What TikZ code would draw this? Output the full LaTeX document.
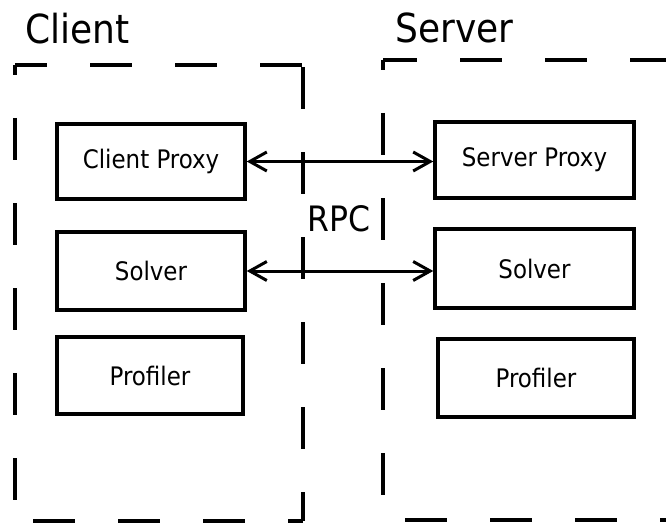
\documentclass[tikz,border=0pt]{standalone}
\usepackage{fontspec}
\setmainfont{DejaVu Sans Condensed}
\usetikzlibrary{arrows.meta}
\begin{document}
\begin{tikzpicture}[x=1pt,y=-1pt,
  box/.style={draw,line width=3.5pt,rectangle,inner sep=0pt,font=\fontsize{25.5}{30}\selectfont},
  frame/.style={line width=3.5pt,dash pattern=on 42pt off 43pt},
  title/.style={anchor=base west,inner sep=0pt,font=\fontsize{40}{48}\selectfont},
  rpc/.style={<->,line width=3pt,>={Straight Barb[length=17pt,width=19pt,line width=3pt]}}]
\useasboundingbox (0,0) rectangle (666,524);
\clip (0,0) rectangle (666,524);
% client frame
\coordinate (c1) at (15,65);
\coordinate (c2) at (303,65);
\coordinate (c3) at (303,521);
\coordinate (c4) at (15,521);
\draw[frame,dash phase=10pt] (c1) -- (c2);
\draw[frame,dash phase=32pt] (c1) -- (c4);
\draw[frame,dash phase=83pt] (c2) -- (c3);
\draw[frame,dash phase=67pt] (c4) -- (c3);
% server frame
\coordinate (s1) at (383,60);
\coordinate (s2) at (690,60);
\coordinate (s3) at (690,520);
\coordinate (s4) at (383,520);
\draw[frame,dash phase=8pt] (s1) -- (s2);
\draw[frame,dash phase=32pt] (s1) -- (s4);
\draw[frame,dash phase=63pt] (s4) -- (s3);
% titles
\node[title] (tc) at (25,44) {Client};
\node[title] (ts) at (395,43) {Server};
\node[anchor=base west,inner sep=0pt,font=\fontsize{35}{42}\selectfont] (rpc) at (307,231) {RPC};
% boxes
\node[box,minimum width=188pt,minimum height=75pt] (cp) at (151,161.5) {Client Proxy};
\node[box,minimum width=188pt,minimum height=78pt] (cs) at (151,271) {Solver};
\node[box,minimum width=186pt,minimum height=77pt] (cf) at (150,375.5) {Profiler};
\node[box,minimum width=199pt,minimum height=76pt] (sp) at (534.5,160) {Server Proxy};
\node[box,minimum width=199pt,minimum height=79pt] (ss) at (534.5,268.5) {Solver};
\node[box,minimum width=196pt,minimum height=78pt] (sf) at (536,378) {Profiler};
% arrows
\draw[rpc] (cp.east) -- (sp.west |- cp.east);
\draw[rpc] (cs.east) -- (ss.west |- cs.east);
\end{tikzpicture}
\end{document}
